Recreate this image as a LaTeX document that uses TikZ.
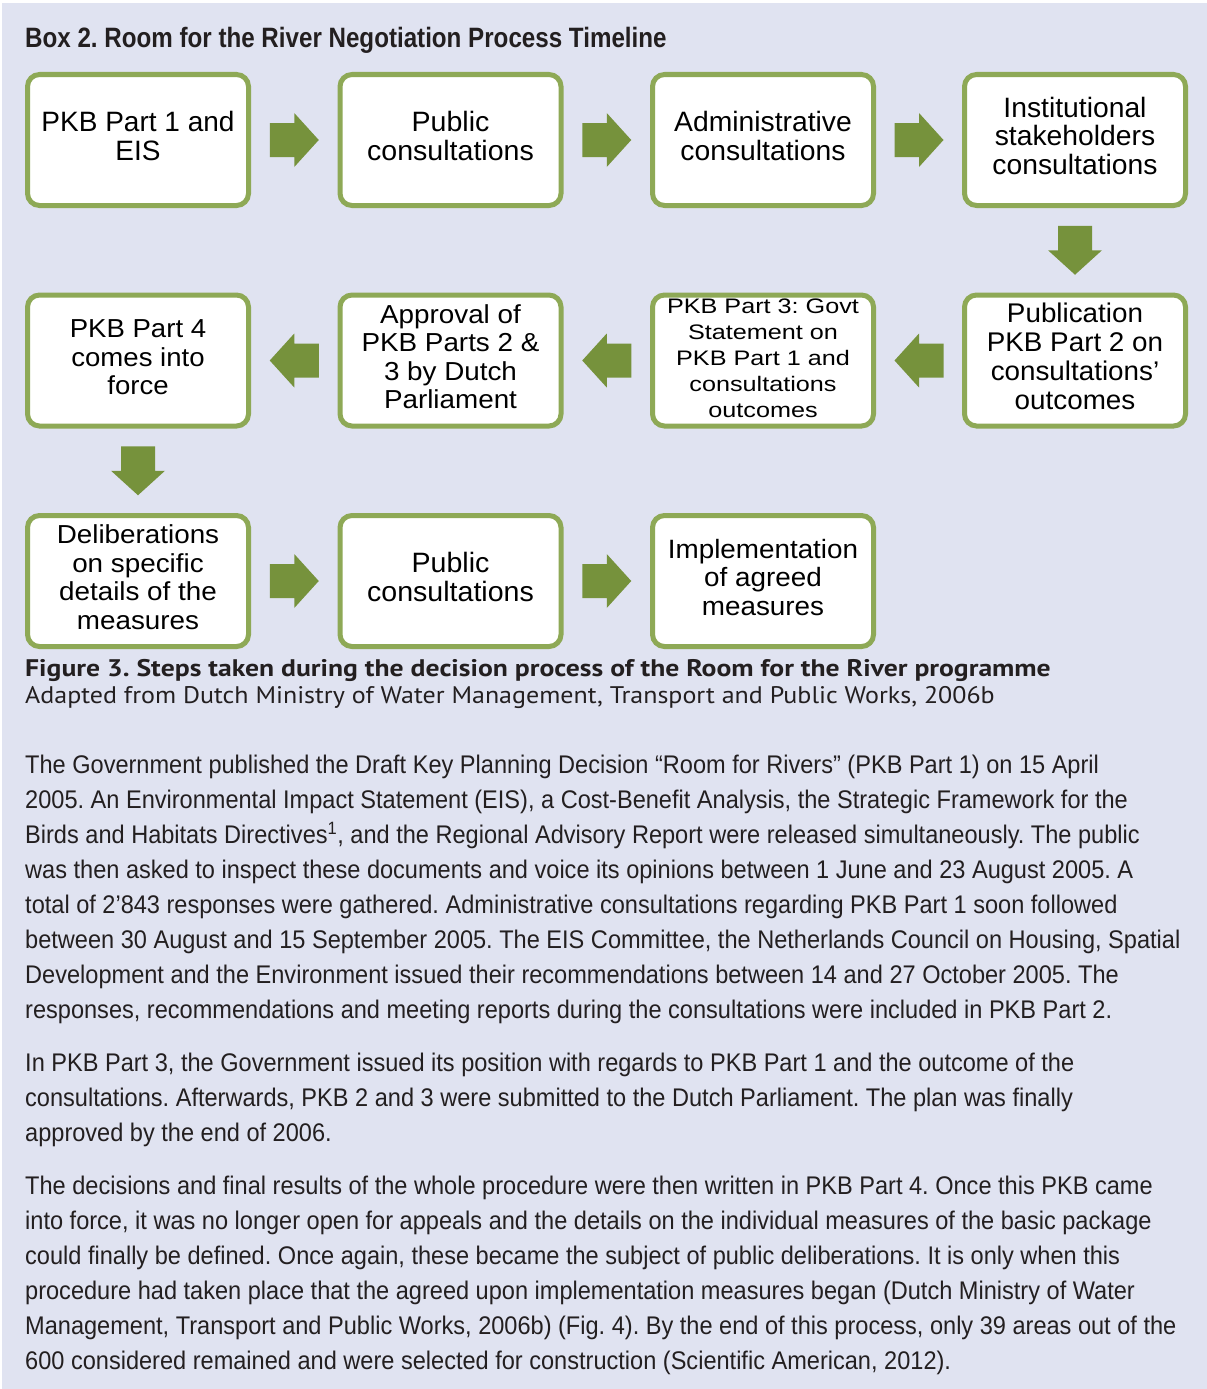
\documentclass[tikz,border=0pt]{standalone}
\usepackage{fontspec}
\setmainfont{Liberation Sans}
\newfontfamily\bodyfont[FakeStretch=0.924]{Liberation Sans}
\newfontfamily\headfont[FakeStretch=0.863]{Liberation Sans}
\newfontfamily\capfont[FakeStretch=1.083, BoldFeatures={FakeStretch=1.152}]{PT Sans}
\usetikzlibrary{calc}
\definecolor{panel}{RGB}{224,227,241}
\definecolor{frame}{RGB}{142,169,86}
\definecolor{flow}{RGB}{118,146,60}
\definecolor{ink}{RGB}{35,31,32}
\frenchspacing

% step label: horizontal scale, font size, line spacing, lines
\newcommand{\steptext}[4]{\scalebox{#1}[1]{\fontsize{#2}{#3}\selectfont\begin{tabular}{@{}c@{}}#4\end{tabular}}}

\tikzset{
  stepbox/.style={draw=frame, line width=5pt, fill=white, rounded corners=12pt,
    minimum width=221pt, minimum height=131pt, inner sep=0pt, text=black},
  flowarrow/.pic={\fill[flow] (-24.5,-17) -- (0,-17) -- (0,-27) -- (24.5,0)
    -- (0,27) -- (0,17) -- (-24.5,17) -- cycle;},
  bodyline/.style={anchor=base west, inner sep=0pt, text=ink,
    font=\bodyfont\fontsize{25.5}{35}\selectfont},
}

\begin{document}
\begin{tikzpicture}[x=1pt, y=-1pt]
\useasboundingbox (0,0) rectangle (1207,1389);
\fill[white] (0,0) rectangle (1207,1389);
\fill[panel] (2,3) rectangle (1207,1389);

% heading
\node[anchor=base west, inner sep=0pt, text=ink,
  font=\headfont\bfseries\fontsize{28}{30}\selectfont] (title) at (25,48)
  {Box 2. Room for the River Negotiation Process Timeline};

% process steps
\node[stepbox] (s1) at (138,140)    {\steptext{1.0}{28}{29}{PKB Part 1 and\\EIS}};
\node[stepbox] (s2) at (450.5,140)  {\steptext{1.02}{28}{29}{Public\\consultations}};
\node[stepbox] (s3) at (763,140)    {\steptext{1.01}{28}{29}{Administrative\\consultations}};
\node[stepbox] (s4) at (1075,140)   {\steptext{1.01}{28}{28.5}{Institutional\\stakeholders\\consultations}};
\node[stepbox] (s5) at (1075,360.5) {\steptext{1.03}{27}{29}{Publication\\PKB Part 2 on\\consultations'\\outcomes}};
\node[stepbox] (s6) at (763,360.5)  {\steptext{1.2}{21}{26}{PKB Part 3: Govt\\Statement on\\PKB Part 1 and\\consultations\\outcomes}};
\node[stepbox] (s7) at (450.5,360.5){\steptext{1.07}{26}{28.5}{Approval of\\PKB Parts 2 \&\\3 by Dutch\\Parliament}};
\node[stepbox] (s8) at (138,360.5)  {\steptext{1.06}{26}{28.5}{PKB Part 4\\comes into\\force}};
\node[stepbox] (s9) at (138,581)    {\steptext{1.07}{26}{28.5}{Deliberations\\on specific\\details of the\\measures}};
\node[stepbox] (s10) at (450.5,581) {\steptext{1.02}{28}{29}{Public\\consultations}};
\node[stepbox] (s11) at (763,581)   {\steptext{1.05}{26.5}{28.5}{Implementation\\of agreed\\measures}};

% block arrows between steps
\pic at ($(s1.east)!0.5!(s2.west)$) {flowarrow};
\pic at ($(s2.east)!0.5!(s3.west)$) {flowarrow};
\pic at ($(s3.east)!0.5!(s4.west)$) {flowarrow};
\pic[rotate=-90] at ($(s4.south)!0.5!(s5.north)$) {flowarrow};
\pic[rotate=180] at ($(s5.west)!0.5!(s6.east)$) {flowarrow};
\pic[rotate=180] at ($(s6.west)!0.5!(s7.east)$) {flowarrow};
\pic[rotate=180] at ($(s7.west)!0.5!(s8.east)$) {flowarrow};
\pic[rotate=-90] at ($(s8.south)!0.5!(s9.north)$) {flowarrow};
\pic at ($(s9.east)!0.5!(s10.west)$) {flowarrow};
\pic at ($(s10.east)!0.5!(s11.west)$) {flowarrow};

% figure caption
\node[anchor=base west, inner sep=0pt, text=ink,
  font=\capfont\bfseries\fontsize{24}{26}\selectfont] (cap) at (25,676)
  {Figure 3. Steps taken during the decision process of the Room for the River programme};
\node[anchor=base west, inner sep=0pt, text=ink,
  font=\capfont\fontsize{24}{26}\selectfont] (src) at (25,703)
  {Adapted from Dutch Ministry of Water Management, Transport and Public Works, 2006b};

% body text
\node[bodyline] (l1) at (25,773.0) {The Government published the Draft Key Planning Decision “Room for Rivers” (PKB Part 1) on 15 April};
\node[bodyline] (l2) at (25,808.1) {2005. An Environmental Impact Statement (EIS), a Cost-Benefit Analysis, the Strategic Framework for the};
\node[bodyline] (l3) at (25,843.2) {Birds and Habitats Directives\textsuperscript{1}, and the Regional Advisory Report were released simultaneously. The public};
\node[bodyline] (l4) at (25,878.3) {was then asked to inspect these documents and voice its opinions between 1 June and 23 August 2005. A};
\node[bodyline] (l5) at (25,913.4) {total of 2’843 responses were gathered. Administrative consultations regarding PKB Part 1 soon followed};
\node[bodyline] (l6) at (25,948.5) {between 30 August and 15 September 2005. The EIS Committee, the Netherlands Council on Housing, Spatial};
\node[bodyline] (l7) at (25,983.6) {Development and the Environment issued their recommendations between 14 and 27 October 2005. The};
\node[bodyline] (l8) at (25,1018.7) {responses, recommendations and meeting reports during the consultations were included in PKB Part 2.};

\node[bodyline] (l9) at (25,1071.3) {In PKB Part 3, the Government issued its position with regards to PKB Part 1 and the outcome of the};
\node[bodyline] (l10) at (25,1106.4) {consultations. Afterwards, PKB 2 and 3 were submitted to the Dutch Parliament. The plan was finally};
\node[bodyline] (l11) at (25,1141.5) {approved by the end of 2006.};

\node[bodyline] (l12) at (25,1194.1) {The decisions and final results of the whole procedure were then written in PKB Part 4. Once this PKB came};
\node[bodyline] (l13) at (25,1229.2) {into force, it was no longer open for appeals and the details on the individual measures of the basic package};
\node[bodyline] (l14) at (25,1264.3) {could finally be defined. Once again, these became the subject of public deliberations. It is only when this};
\node[bodyline] (l15) at (25,1299.4) {procedure had taken place that the agreed upon implementation measures began (Dutch Ministry of Water};
\node[bodyline] (l16) at (25,1334.5) {Management, Transport and Public Works, 2006b) (Fig. 4). By the end of this process, only 39 areas out of the};
\node[bodyline] (l17) at (25,1369.6) {600 considered remained and were selected for construction (Scientific American, 2012).};
\end{tikzpicture}
\end{document}
